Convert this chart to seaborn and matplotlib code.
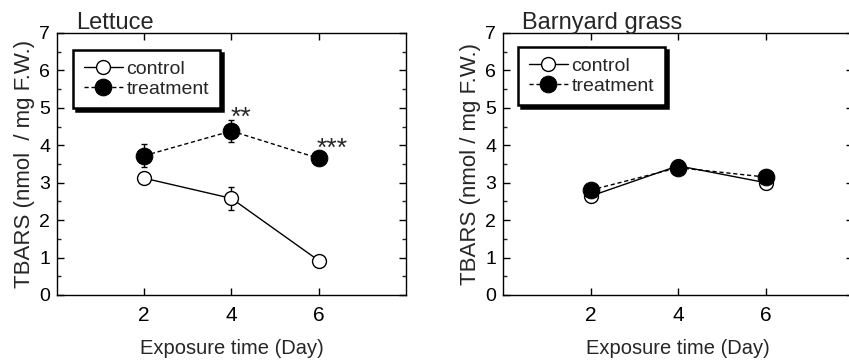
import numpy as np
import pandas as pd
import matplotlib
matplotlib.use("Agg")
import matplotlib.pyplot as plt
import seaborn as sns
from matplotlib.ticker import MultipleLocator, FixedLocator

sns.set_theme(style="ticks")
plt.rcParams.update({
    "font.family": ["Liberation Sans", "DejaVu Sans"],
    "font.size": 14,
    "axes.linewidth": 1.0,
    "xtick.direction": "in",
    "ytick.direction": "in",
})

# --- data ---
days = [2, 4, 6]
lettuce_control = [3.12, 2.58, 0.92]
lettuce_control_err = [0.12, 0.30, 0.10]
lettuce_treat = [3.72, 4.38, 3.65]
lettuce_treat_err = [0.30, 0.30, 0.05]
grass_control = [2.64, 3.45, 3.00]
grass_control_err = [0.06, 0.10, 0.06]
grass_treat = [2.80, 3.40, 3.15]
grass_treat_err = [0.06, 0.06, 0.06]
titles = ["Lettuce", "Barnyard grass"]
ylabels = ["TBARS (nmol  / mg F.W.)", "TBARS (nmol / mg F.W.)"]
xlabel = "Exposure time (Day)"
stars = [(3.98, 4.55, "**"), (5.95, 3.72, "***")]

fig = plt.figure(figsize=(8.49, 3.6), dpi=100)
ax1 = fig.add_axes([0.0671, 0.1806, 0.411, 0.728])
ax2 = fig.add_axes([0.5925, 0.1806, 0.4123, 0.728])


def draw(ax, ctrl, ctrl_err, trt, trt_err, title, ylabel, legend_anchor):
    df = pd.DataFrame({"day": days, "control": ctrl, "treatment": trt})
    ax.errorbar(days, ctrl, yerr=ctrl_err, fmt="none", ecolor="black",
                elinewidth=1, capsize=2.5, capthick=1, zorder=2)
    ax.errorbar(days, trt, yerr=trt_err, fmt="none", ecolor="black",
                elinewidth=1, capsize=2.5, capthick=1, zorder=2)
    sns.lineplot(data=df, x="day", y="control", ax=ax, color="black", lw=1,
                 marker="o", markersize=10, markerfacecolor="white",
                 markeredgecolor="black", markeredgewidth=1, label="control",
                 zorder=3)
    sns.lineplot(data=df, x="day", y="treatment", ax=ax, color="black", lw=1,
                 linestyle=(0, (3, 2)), marker="o", markersize=12,
                 markerfacecolor="black", markeredgecolor="black",
                 label="treatment", zorder=4)
    ax.set_xlim(0, 8)
    ax.set_ylim(0, 7)
    ax.xaxis.set_major_locator(FixedLocator(days))
    ax.yaxis.set_major_locator(MultipleLocator(1))
    ax.yaxis.set_minor_locator(MultipleLocator(0.5))
    ax.tick_params(which="major", top=True, right=True, length=5, width=1,
                   labelsize=14, pad=5, colors="black")
    ax.tick_params(axis="x", labelsize=15, pad=8)
    ax.tick_params(which="minor", right=True, left=True, length=3, width=1)
    ax.set_xlabel(xlabel, fontsize=14.5, labelpad=10)
    ax.set_ylabel(ylabel, fontsize=16, labelpad=3)
    ax.set_title(title, fontsize=17, loc="left", x=0.055, pad=3)
    for s in ax.spines.values():
        s.set_visible(True)
        s.set_color("black")
    leg = ax.legend(loc="upper left", bbox_to_anchor=legend_anchor,
                    fontsize=14, handlelength=2.0, handletextpad=0.2,
                    borderpad=0.55, labelspacing=0.1, frameon=True,
                    fancybox=False, shadow={"color": "black", "alpha": 1},
                    edgecolor="black", borderaxespad=0)
    leg.get_frame().set_linewidth(1.8)
    leg.get_frame().set_alpha(1)


draw(ax1, lettuce_control, lettuce_control_err, lettuce_treat,
     lettuce_treat_err, titles[0], ylabels[0], (0.046, 0.935))
draw(ax2, grass_control, grass_control_err, grass_treat, grass_treat_err,
     titles[1], ylabels[1], (0.043, 0.947))

for x, y, s in stars:
    ax1.text(x, y, s, fontsize=19, ha="left", va="baseline")

fig.savefig("out.png", dpi=100)
